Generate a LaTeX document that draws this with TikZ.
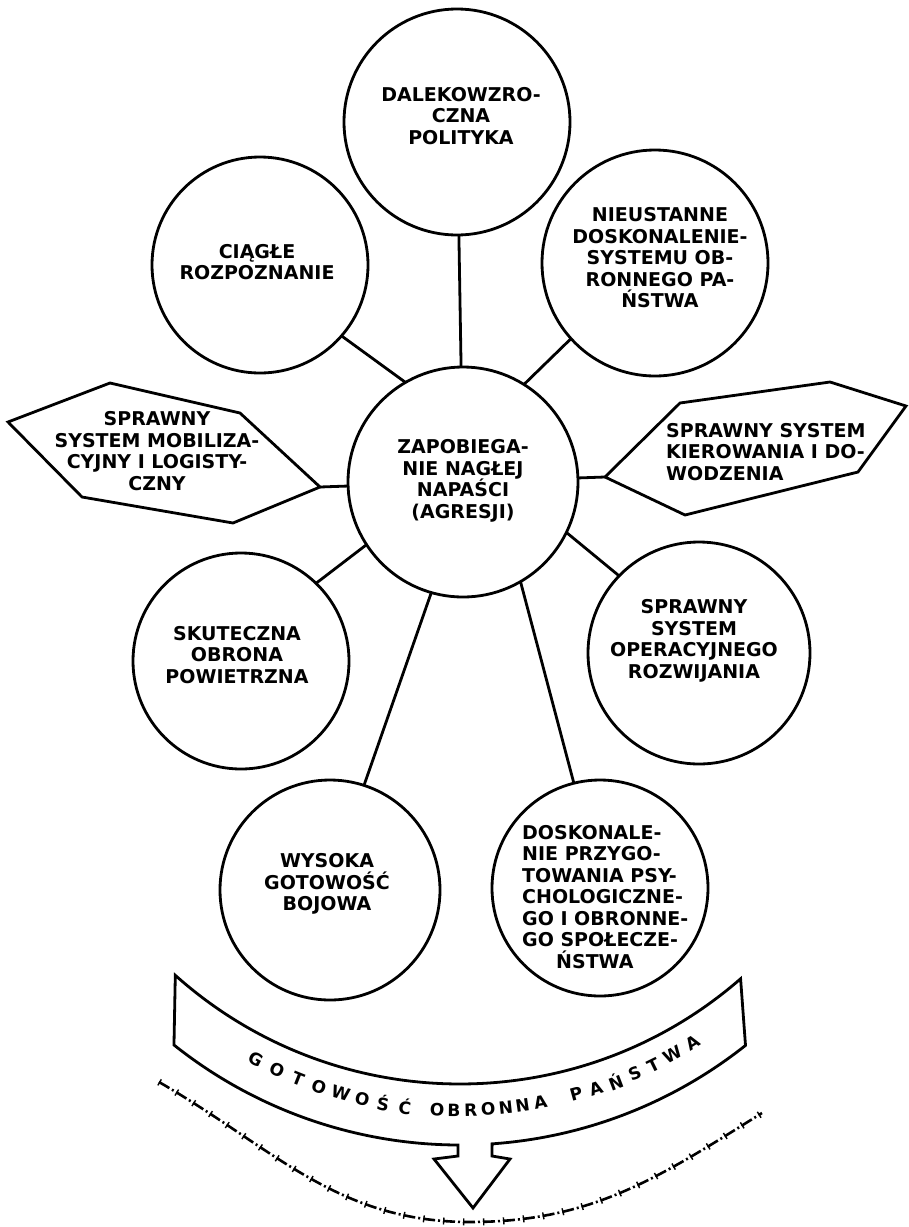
\documentclass[tikz,border=0pt]{standalone}
\usepackage{fontspec}
\setmainfont{DejaVu Sans}
\usetikzlibrary{calc}
\begin{document}
\begin{tikzpicture}[x=1pt,y=-1pt,
  circ/.style={draw,circle,line width=2.8pt,inner sep=0pt,outer sep=0pt},
  lbl/.style={align=center,font=\bfseries\fontsize{19}{21.5}\selectfont,inner sep=0pt},
  conn/.style={line width=2.8pt},
  shapeline/.style={line width=2.8pt,line join=miter},
  btxt/.style={font=\bfseries\fontsize{17}{17}\selectfont,inner sep=0pt},
  bord/.style={line width=2.6pt,dash pattern=on 12pt off 3pt on 2pt off 3pt,
    postaction={draw,line width=7pt,dash pattern=on 1.4pt off 18.6pt}}
]
\fill[white] (0,0) rectangle (909,1227);
\useasboundingbox (0,0) rectangle (909,1227);

% circles
\node[circ,minimum size=226pt] (top) at (457,122) {};
\node[circ,minimum size=216pt] (ciag) at (260,265) {};
\node[circ,minimum size=226pt] (nieu) at (655,263) {};
\node[circ,minimum size=230pt] (c) at (463,482) {};
\node[circ,minimum size=216pt] (skut) at (241,661) {};
\node[circ,minimum size=222pt] (oper) at (699,653) {};
\node[circ,minimum size=220pt] (wys) at (330,890) {};
\node[circ,minimum size=216pt] (dosk) at (600,888) {};

% hexagons
\coordinate (hl1) at (8,422);
\coordinate (hl2) at (110,383);
\coordinate (hl3) at (240,413);
\coordinate (hl4) at (320,487);
\coordinate (hl5) at (233,523);
\coordinate (hl6) at (82,497);
\draw[shapeline] (hl1) -- (hl2) -- (hl3) -- (hl4) -- (hl5) -- (hl6) -- cycle;
\coordinate (hr1) at (605,477);
\coordinate (hr2) at (680,403);
\coordinate (hr3) at (830,382);
\coordinate (hr4) at (906,406);
\coordinate (hr5) at (858,472);
\coordinate (hr6) at (685,515);
\draw[shapeline] (hr1) -- (hr2) -- (hr3) -- (hr4) -- (hr5) -- (hr6) -- cycle;

% connectors
\draw[conn] (top) -- (c);
\draw[conn] (ciag.-41) -- (c.120);
\draw[conn] (nieu.222) -- (c.58);
\draw[conn] (hl4) -- (c);
\draw[conn] (hr1) -- (c);
\draw[conn] (skut.46) -- (c.213);
\draw[conn] (oper.136) -- (c.-26);
\draw[conn] (wys.72) -- (c.254);
\draw[conn] (dosk.104) -- (c.-60);

% labels
\node[lbl] (topT) at (461,116) {DALEKOWZRO-\\CZNA\\POLITYKA};
\node[lbl] (ciagT) at (257,262) {CIĄGŁE\\ROZPOZNANIE};
\node[lbl] (nieuT) at (660,258) {NIEUSTANNE\\DOSKONALENIE-\\SYSTEMU OB-\\RONNEGO PA-\\ŃSTWA};
\node[lbl] (cT) at (463,481) {ZAPOBIEGA-\\NIE NAGŁEJ\\NAPAŚCI\\(AGRESJI)};
\node[lbl] (hlT) at (157,451) {SPRAWNY\\SYSTEM MOBILIZA-\\CYJNY I LOGISTY-\\CZNY};
\node[lbl,align=left,anchor=west] (hrT) at (666,452) {SPRAWNY SYSTEM\\KIEROWANIA I DO-\\WODZENIA};
\node[lbl] (skutT) at (237,655) {SKUTECZNA\\OBRONA\\POWIETRZNA};
\node[lbl] (operT) at (694,641) {SPRAWNY\\SYSTEM\\OPERACYJNEGO\\ROZWIJANIA};
\node[lbl] (wysT) at (327,884) {WYSOKA\\GOTOWOŚĆ\\BOJOWA};
\node[lbl,align=left,anchor=west] (doskT) at (522,897) {DOSKONALE-\\NIE PRZYGO-\\TOWANIA PSY-\\CHOLOGICZNE-\\GO I OBRONNE-\\GO SPOŁECZE-\\\hspace*{34pt}ŃSTWA};

% band arrow
\coordinate (btl) at (175.3,975.3);
\draw[shapeline] (btl) arc[start angle=131.8,end angle=48.9,radius=427]
  -- (745.5,1045.4) arc[start angle=51.55,end angle=86,radius=459]
  -- (492,1156) -- (510,1159) -- (473,1208) -- (434,1159) -- (458,1156) -- (458,1145)
  arc[start angle=90.25,end angle=128.55,radius=459] -- cycle;

\coordinate (tc) at (460,672);
\foreach \a/\l [count=\i] in {117.8/G,114.7/O,111.7/T,108.8/O,105.8/W,102.9/O,100.1/Ś,97.2/Ć,93.0/O,90.8/B,88.6/R,86.3/O,84.0/N,81.8/N,79.4/A,74.6/P,71.9/A,69.2/Ń,66.5/S,63.8/T,60.9/W,57.9/A}
  \node[btxt,rotate={90-\a}] (bt\i) at ($(tc)+(\a:438)$) {\l};

% border line
\coordinate (b1) at (159,1082);
\coordinate (b2) at (470,1222);
\coordinate (b3) at (762,1113);
\draw[bord] (b1) to[out=-30,in=180] (b2) to[out=0,in=-148] (b3);
\end{tikzpicture}
\end{document}
